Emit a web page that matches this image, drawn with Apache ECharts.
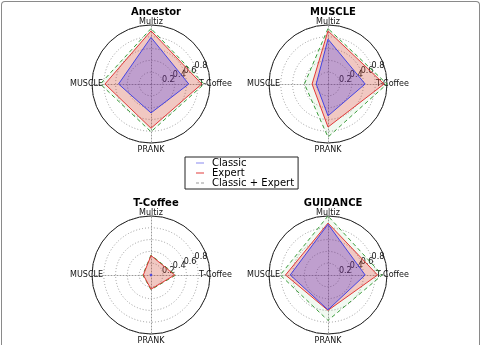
<!DOCTYPE html>
<html>
<head>
<meta charset="utf-8">
<script src="https://cdn.jsdelivr.net/npm/echarts@6/dist/echarts.min.js"></script>
<style>
  html, body { margin: 0; padding: 0; background: #fff; }
  #frame { position: absolute; left: 1px; top: 1px; width: 477px; height: 350px; border: 1px solid #8a8a8a; border-bottom: none; border-radius: 4px 4px 0 0; }
  #myEcharts { position: absolute; left: 0; top: 0; width: 481px; height: 345px; }
</style>
</head>
<body>
<div id="frame"></div>
<div id="myEcharts"></div>
<script>
// axes in echarts radar order (counter-clockwise from the top)
const indicators = ['Multiz', 'MUSCLE', 'PRANK', 'T-Coffee'];
const panels = ['Ancestor', 'MUSCLE', 'T-Coffee', 'GUIDANCE'];
const seriesNames = ['Classic', 'Expert', 'Classic + Expert'];
const rTicks = [0.2, 0.4, 0.6, 0.8];

// one value per indicator, per panel
const classicVals = [
  [0.79, 0.55, 0.49, 0.64],
  [0.76, 0.20, 0.54, 0.63],
  [0.02, 0.02, 0.02, 0.02],
  [0.86, 0.64, 0.59, 0.63]
];
const expertVals = [
  [0.90, 0.78, 0.75, 0.86],
  [0.90, 0.27, 0.73, 0.95],
  [0.33, 0.13, 0.24, 0.40],
  [0.88, 0.72, 0.60, 0.84]
];
const bothVals = [
  [0.94, 0.86, 0.81, 0.90],
  [0.94, 0.40, 0.90, 1.00],
  [0.34, 0.14, 0.25, 0.42],
  [1.00, 0.81, 0.77, 0.92]
];

const centers = [[151, 84], [328, 84], [151, 275], [328, 275]];
const R = 59;

const blue = '#4a4ae0', red = '#e03a3a', green = '#3c9c3c';

let chart = echarts.init(document.getElementById('myEcharts'));

let titles = panels.map((t, i) => ({
  text: t,
  left: centers[i][0],
  top: centers[i][1] - 82,
  textAlign: 'center',
  textStyle: { fontFamily: 'DejaVu Sans', fontSize: 10, fontWeight: 'bold', color: '#000' }
}));

let radars = centers.map(c => ({
  center: c,
  radius: R,
  startAngle: 90,
  shape: 'circle',
  indicator: indicators.map(n => ({ name: n, min: 0, max: 1 })),
  nameGap: -11,
  axisName: {
    color: '#111',
    fontFamily: 'DejaVu Sans',
    fontSize: 8,
    formatter: function (name, ind) {
      // top and bottom names sit on the outer ring
      if (name === 'Multiz') return '{t|' + name + '}';
      if (name === 'PRANK') return '{b|' + name + '}';
      return name;
    },
    rich: {
      t: { fontFamily: 'DejaVu Sans', fontSize: 8, color: '#111', padding: [0, 0, 10, 0] },
      b: { fontFamily: 'DejaVu Sans', fontSize: 8, color: '#111', padding: [14, 0, 0, 0] }
    }
  },
  axisLine: { lineStyle: { color: '#999', type: [1, 2], width: 1 } },
  axisTick: { show: false },
  axisLabel: { show: false },
  splitLine: { show: false },
  splitArea: { show: false }
}));

let polars = centers.map(c => ({ center: c, radius: R }));
let angleAxes = centers.map((c, i) => ({
  polarIndex: i, type: 'value', min: 0, max: 360, startAngle: 22.5,
  axisLine: { show: true, lineStyle: { color: '#222', width: 1 } },
  axisTick: { show: false }, axisLabel: { show: false }, splitLine: { show: false }
}));
let radiusAxes = centers.map((c, i) => ({
  polarIndex: i, type: 'value', min: 0, max: 1, interval: 0.2,
  axisLine: { show: false }, axisTick: { show: false },
  axisLabel: {
    fontFamily: 'DejaVu Sans', fontSize: 8, color: '#111', margin: 0,
    align: 'left', verticalAlign: 'middle', padding: [0, 0, 5, 0],
    formatter: v => rTicks.some(t => Math.abs(t - v) < 1e-6) ? v.toFixed(1) : ''
  },
  splitLine: { lineStyle: { color: '#999', type: [1, 2], width: 1 } }
}));

let series = [];
centers.forEach((c, i) => {
  series.push({
    type: 'radar', radarIndex: i, name: 'Classic + Expert', symbol: 'none', z: 2,
    data: [{ value: bothVals[i] }],
    itemStyle: { color: green },
    lineStyle: { color: green, width: 1, type: [4, 3] },
    areaStyle: { color: 'rgba(60,170,60,0.1)' }
  });
  series.push({
    type: 'radar', radarIndex: i, name: 'Expert', symbol: 'none', z: 3,
    data: [{ value: expertVals[i] }],
    itemStyle: { color: red },
    lineStyle: { color: red, width: 1 },
    areaStyle: { color: 'rgba(240,40,40,0.34)' }
  });
  series.push({
    type: 'radar', radarIndex: i, name: 'Classic', symbol: 'none', z: 4,
    data: [{ value: classicVals[i] }],
    itemStyle: { color: blue },
    lineStyle: { color: blue, width: 1 },
    areaStyle: { color: 'rgba(20,20,245,0.32)' }
  });
});

chart.setOption({
  animation: false,
  title: titles,
  legend: {
    orient: 'vertical',
    left: 185,
    top: 157,
    padding: [1, 4, 1, 11],
    itemGap: 0,
    itemWidth: 8,
    itemHeight: 1,
    borderColor: '#222',
    borderWidth: 1,
    backgroundColor: '#fff',
    textStyle: { fontFamily: 'DejaVu Sans', fontSize: 10, color: '#000', lineHeight: 10, padding: [0, 0, 0, 3] },
    data: [
      { name: 'Classic', icon: 'rect', itemStyle: { color: '#8888ee', borderWidth: 0 } },
      { name: 'Expert', icon: 'rect', itemStyle: { color: red, borderWidth: 0 } },
      { name: 'Classic + Expert', icon: 'path://M0,0H3V1H0Z M5,0H8V1H5Z', itemStyle: { color: '#9a9a9a', borderWidth: 0 } }
    ]
  },
  radar: radars,
  polar: polars,
  angleAxis: angleAxes,
  radiusAxis: radiusAxes,
  series: series
});

window.addEventListener('resize', () => {
  chart.resize();
});
</script>
</body>
</html>
